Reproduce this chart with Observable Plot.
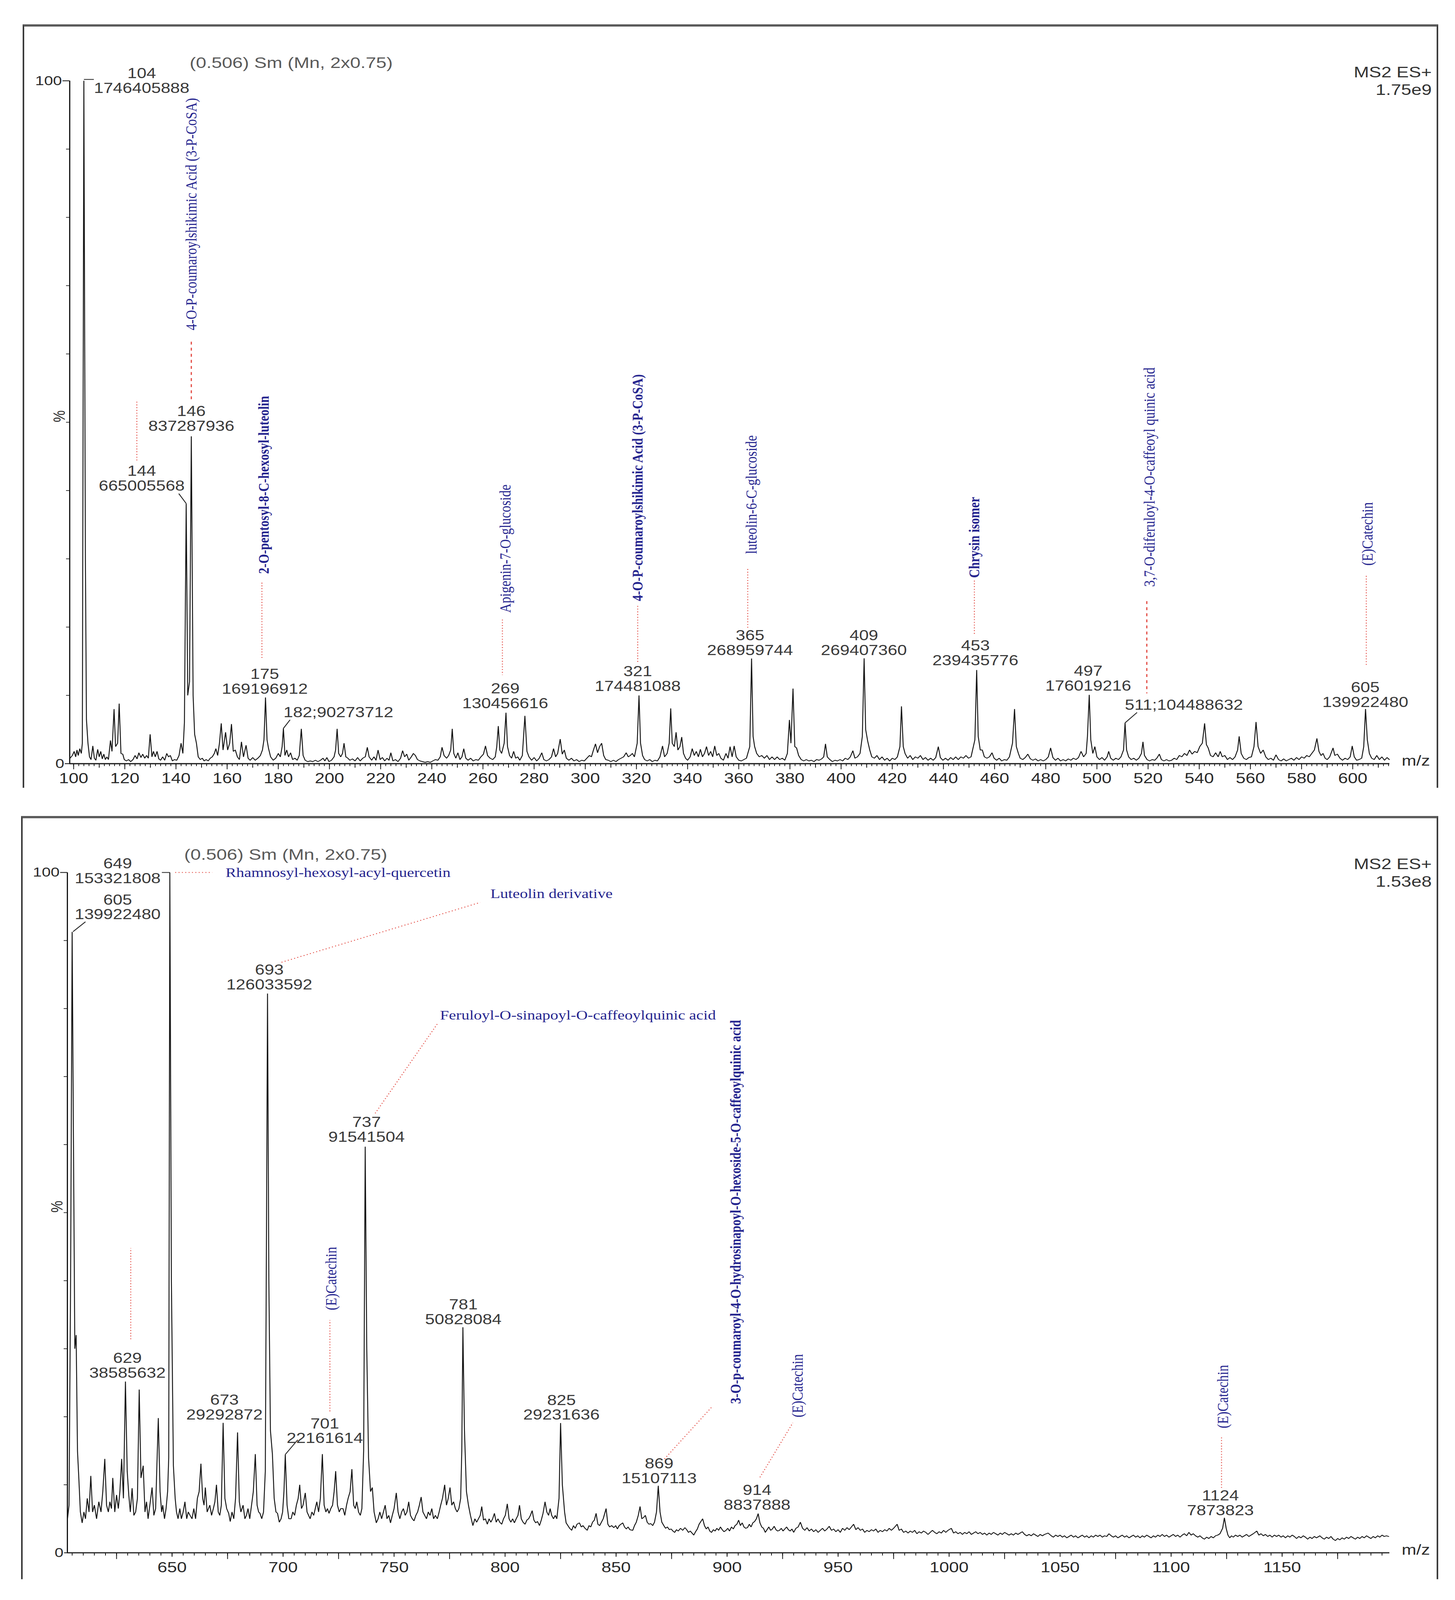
<!DOCTYPE html>
<html>
<head>
<meta charset="utf-8">
<script src="https://cdn.jsdelivr.net/npm/d3@7"></script>
<script src="https://cdn.jsdelivr.net/npm/@observablehq/plot@0.6"></script>
<style>
  html, body { margin: 0; padding: 0; background: #fff; overflow: hidden; }
  #page { position: absolute; left: 0; top: 0; width: 3725px; height: 5000px; transform-origin: 0 0; background: #fff; }
  .panel { position: absolute; left: 0; width: 3725px; height: 2500px; }
  .box { position: absolute; box-sizing: border-box;
         border-top: 7px solid #5a5a5a; border-left: 4px solid #3a3a3a; border-right: 4px solid #3a3a3a; }
</style>
</head>
<body>
<div id="page">
  <div class="box" style="left:58px; top:76px; width:3624px; height:2386px;"></div>
  <div class="box" style="left:54px; top:2550px; width:3628px; height:2385px;"></div>
  <div id="top" class="panel" style="top:0px;"></div>
  <div id="bottom" class="panel" style="top:2500px;"></div>
</div>
<script>
// ---------------- DATA ----------------
// Upper spectrum: [m/z, relative intensity %] (100% = 1.75e9)
const topTrace = [
[98.6,0.8],[99.5,1.2],[100.2,1.8],[100.8,1.0],[101.3,2.0],[101.8,1.2],[102.4,2.2],[103.0,1.5],[103.4,3],[104,100],[104.6,30],[105,6.5],[105.6,3.0],[106.2,1.0],[106.8,0.6],[107.5,2.6],[108.1,0.8],[108.7,0.5],[109.4,2.1],[110.0,1.0],[110.6,1.8],[111.2,0.7],[111.8,1.4],[112.4,0.6],[113,1.0],[113.6,0.6],[114.4,3.4],[115,1.8],[115.8,8.0],[116.4,2.5],[117.2,3.0],[117.8,8.8],[118.5,1.5],[119.2,1.4],[119.8,0.6],[120.6,0.4],[121.5,0.6],[122.3,0.3],[123.2,0.6],[124.0,1.2],[124.8,0.7],[125.5,1.6],[126.3,0.9],[127,1.4],[127.8,0.8],[128.5,1.2],[129.2,0.8],[129.9,4.3],[130.6,1.0],[131.2,1.8],[131.9,1.0],[132.6,1.8],[133.3,0.7],[134,0.5],[134.8,1.0],[135.6,0.5],[136.4,1.5],[137.1,1.0],[137.8,1.2],[138.6,0.4],[139.4,0.6],[140.3,0.5],[141.2,1.2],[142,3.0],[142.7,1.5],[143.3,6],[144,38.08],[144.6,10],[145.3,12],[146,47.94],[146.7,10],[147.3,4.3],[148,3],[148.7,1.0],[149.5,0.6],[150.3,0.8],[151,0.4],[151.8,0.6],[152.6,0.4],[153.4,0.8],[154.2,1.0],[155,1.5],[155.6,2.2],[156.3,1.2],[157,3.0],[157.7,5.9],[158.4,2.0],[159.4,4.6],[160.2,2.0],[161,3.0],[161.7,5.8],[162.4,1.8],[163.2,2.0],[164,1.0],[164.8,0.6],[165.6,3.2],[166.4,1.0],[167.4,2.7],[168.2,0.8],[169,0.5],[170,0.9],[171,0.5],[172,0.8],[173,1.2],[173.8,2.0],[174.4,3.5],[175,9.69],[175.6,3.5],[176.2,2.2],[177,1.0],[178,0.5],[179,0.8],[180,1.5],[180.8,1.0],[181.5,2.5],[182,5.17],[182.6,1.2],[183.3,2.0],[184,1.0],[184.8,1.6],[185.6,0.6],[186.5,0.8],[187.4,0.5],[188.2,1.2],[189,5.1],[189.7,1.2],[190.5,0.5],[191.5,0.3],[192.5,0.4],[193.5,0.3],[194.5,0.5],[195.5,0.3],[196.5,0.5],[197.5,0.8],[198.2,0.4],[199,0.9],[199.8,0.3],[200.8,0.5],[201.8,1.0],[202.4,2.0],[203,5.1],[203.6,1.5],[204.4,1.0],[205.1,1.5],[205.7,3.0],[206.4,1.0],[207.2,0.8],[208,0.5],[209,0.7],[210,0.4],[211,0.9],[212,0.4],[213,0.8],[214,1.0],[214.8,2.4],[215.5,1.0],[216.5,0.5],[217.4,1.0],[218.2,0.5],[219,2.0],[219.8,0.6],[220.7,0.9],[221.6,0.4],[222.5,0.8],[223.3,0.5],[224,1.6],[224.8,0.4],[225.8,0.6],[226.8,0.3],[227.8,0.8],[228.6,1.9],[229.4,1.0],[230.2,1.4],[231,0.5],[232,1.0],[232.8,1.5],[233.6,1.2],[234.4,0.6],[235.4,0.4],[236.4,0.3],[237.4,0.2],[238.4,0.3],[239.4,0.2],[240.4,0.4],[241.4,0.6],[242.4,0.5],[243.3,1.0],[244,2.4],[244.8,1.2],[245.8,0.8],[246.6,1.2],[247.4,2.0],[248,5.1],[248.6,1.5],[249.4,0.8],[250.2,1.6],[251,0.6],[251.8,1.0],[252.5,2.2],[253.3,0.8],[254.2,0.5],[255.2,0.8],[256.2,0.4],[257.2,0.6],[258.2,0.5],[259.2,1.0],[260.2,1.4],[261,2.6],[261.8,1.2],[262.8,0.8],[263.8,0.6],[264.8,1.0],[265.4,2.5],[266,5.5],[266.6,2.0],[267.3,1.5],[268.3,3],[269,7.47],[269.6,2.5],[270.4,1.2],[271.2,0.8],[272,1.8],[272.8,0.8],[273.6,1.0],[274.4,0.5],[275.4,1.2],[276.4,7.0],[277.2,1.8],[278,1.0],[279,0.5],[280,0.9],[281,0.4],[282,0.8],[283,1.6],[283.8,0.6],[284.8,0.4],[285.8,0.6],[286.8,1.0],[287.6,2.2],[288.4,1.0],[289.2,1.5],[290.2,3.6],[291,1.4],[291.8,2.0],[292.6,0.8],[293.6,0.5],[294.6,0.8],[295.6,0.4],[296.6,0.6],[297.6,0.3],[298.6,0.5],[299.6,0.4],[300.6,0.8],[301.6,1.2],[302.4,1.0],[303.2,2.0],[304,2.9],[304.8,1.6],[305.6,2.5],[306.4,3.0],[307.2,1.2],[308,0.6],[309,0.5],[310,0.3],[311,0.5],[312,0.3],[313,0.6],[314,0.8],[315,1.0],[316,1.6],[316.8,1.0],[317.6,1.2],[318.4,1.5],[319.2,1.0],[320.3,3],[321,9.99],[321.6,3.0],[322.4,1.2],[323.2,0.6],[324.2,0.4],[325.2,0.6],[326.2,0.3],[327.2,0.5],[328.2,0.4],[329.2,1.0],[330.2,2.6],[331,1.0],[332,1.5],[332.8,3.0],[333.4,8.1],[334,3.0],[334.8,2.5],[335.5,4.6],[336.2,2.0],[337,2.5],[337.7,3.9],[338.4,1.5],[339.2,0.8],[340,0.5],[341,1.0],[341.8,2.2],[342.6,1.2],[343.4,1.8],[344.2,1.0],[345,2.1],[345.8,1.0],[346.6,1.5],[347.4,2.5],[348.2,1.2],[349,1.8],[349.8,1.0],[350.6,2.6],[351.4,1.2],[352.2,1.5],[353,0.8],[354,0.5],[355,1.5],[355.8,0.8],[356.6,2.5],[357.4,1.0],[358.2,2.6],[359,1.0],[360,0.5],[361,0.4],[362,0.6],[363,0.8],[364.3,2.5],[365,15.4],[365.6,4.0],[366.2,2.5],[367,1.5],[368,1.0],[369,1.2],[370,0.8],[371,1.2],[372,0.6],[373,1.0],[374,0.6],[375,1.0],[376,0.6],[377,0.8],[378,0.5],[379,1.5],[379.8,6.4],[380.4,3.0],[381.2,11.0],[381.9,2.5],[382.6,2.3],[383.4,1.2],[384.4,0.6],[385.4,0.4],[386.4,0.6],[387.4,0.4],[388.4,0.5],[389.4,0.3],[390.4,0.6],[391.4,0.5],[392.4,0.7],[393.2,1.0],[393.9,2.9],[394.6,1.0],[395.6,0.6],[396.6,0.3],[397.6,0.5],[398.6,0.4],[399.6,0.6],[400.6,0.4],[401.6,0.8],[402.6,0.6],[403.6,1.0],[404.6,1.9],[405.4,0.8],[406.4,1.0],[407.4,1.5],[408.3,4],[409,15.43],[409.6,5.0],[410.4,3.3],[411.2,2.0],[412,1.0],[413,0.8],[414,1.2],[415,0.6],[416,1.0],[417,0.5],[418,0.8],[419,0.4],[420,0.8],[421,0.6],[422,1.0],[423,2.5],[423.6,8.4],[424.3,2.5],[425,1.5],[426,0.8],[427,1.2],[428,0.6],[429,1.0],[430,0.8],[431,1.2],[432,0.6],[433,0.9],[434,0.5],[435,0.8],[436,0.5],[437,0.9],[438,2.5],[438.8,0.9],[439.8,0.5],[440.8,0.8],[441.8,0.5],[442.8,0.9],[443.8,0.6],[444.8,1.0],[445.8,0.6],[446.8,1.0],[447.8,0.8],[448.8,1.2],[449.8,0.8],[450.8,1.0],[452.3,3.5],[453,13.71],[453.6,4.0],[454.4,2.0],[455.2,2.0],[456,1.0],[457,0.8],[458,1.0],[459,1.6],[459.8,0.8],[460.8,0.5],[461.8,0.8],[462.8,0.4],[463.8,0.6],[464.8,0.5],[465.8,1.0],[467,3.0],[467.8,8.0],[468.5,2.5],[469.3,1.5],[470,0.8],[471,0.6],[472,0.9],[473,1.4],[474,0.7],[475,0.5],[476,0.7],[477,0.4],[478,0.6],[479,0.4],[480,0.6],[481,1.0],[481.9,2.3],[482.8,0.9],[483.8,0.5],[484.8,0.8],[485.8,0.4],[486.8,0.6],[487.8,0.4],[488.8,0.7],[489.8,0.5],[490.8,0.8],[491.8,0.6],[492.8,0.9],[493.8,1.8],[494.8,1.0],[495.8,1.5],[496.3,4],[497,10.08],[497.6,3.5],[498.4,1.5],[499.2,2.5],[500,1.0],[501,0.6],[502,0.9],[503,0.5],[504,1.0],[504.6,1.8],[505.4,0.8],[506.4,0.5],[507.4,0.8],[508.4,0.6],[509.4,1.0],[510.4,2.0],[511,5.98],[511.6,2.0],[512.4,1.0],[513.4,0.6],[514.4,0.8],[515.4,0.5],[516.4,0.8],[517.4,1.5],[518,3.2],[518.6,1.2],[519.6,0.6],[520.6,0.4],[521.6,0.6],[522.6,0.5],[523.6,0.9],[524.4,1.4],[525.2,0.6],[526.2,0.4],[527.2,0.6],[528.2,0.4],[529.2,0.5],[530.2,0.8],[531.2,0.6],[532.2,1.2],[533.2,1.0],[534.2,1.5],[535.2,1.2],[536.2,2.0],[537.2,1.4],[538.2,1.8],[539.2,1.6],[540.2,2.5],[541.2,3.0],[542.1,5.9],[542.8,2.8],[543.5,2.3],[544.4,1.2],[545.4,1.0],[546.4,1.6],[547.4,1.0],[548.2,1.8],[549,1.0],[550,1.2],[551,0.6],[552,0.9],[553,0.6],[554,1.0],[555,2.0],[555.6,4.0],[556.4,1.5],[557.4,0.8],[558.4,0.6],[559.4,0.9],[560.4,1.0],[561.4,2.5],[562.2,6.1],[563,2.5],[564,1.5],[565,2.0],[566,1.0],[567,0.6],[568,0.8],[569,0.5],[570,1.3],[571,0.6],[572,0.4],[573,0.7],[574,0.4],[575,0.6],[576,0.8],[577,0.5],[578,0.9],[579,0.6],[580,1.0],[581,0.8],[582,1.2],[583,1.0],[584,1.5],[585,2.0],[586,3.7],[586.8,1.8],[587.6,1.2],[588.4,1.5],[589.2,0.8],[590,0.6],[591,1.0],[592.3,2.3],[593,1.2],[594,1.4],[595,0.8],[596,0.5],[597,0.8],[598,0.6],[599,1.0],[599.8,2.6],[600.6,1.0],[601.5,0.5],[602.5,0.6],[603.5,0.8],[604.3,2.5],[605,8.01],[605.7,3.5],[606.5,1.5],[607.4,0.8],[608.4,0.6],[609.4,1.2],[610.4,0.6],[611.4,1.0],[612.4,0.5],[613.4,0.9],[614.3,0.6]
];
const topPeakMz = [104, 146, 144, 175, 269, 321, 365, 409, 453, 497, 605];
const topPeakCounts = [1746405888, 837287936, 665005568, 169196912, 130456616, 174481088, 268959744, 269407360, 239435776, 176019216, 139922480];
const topInlineMz = [182, 511];
const topInlineCounts = [90273712, 104488632];
const topCompounds = ["4-O-P-coumaroylshikimic Acid (3-P-CoSA)", "2-O-pentosyl-8-C-hexosyl-luteolin", "Apigenin-7-O-glucoside", "4-O-P-coumaroylshikimic Acid (3-P-CoSA)", "luteolin-6-C-glucoside", "Chrysin isomer", "3,7-O-diferuloyl-4-O-caffeoyl quinic acid", "(E)Catechin"];
const topTitle = "(0.506) Sm (Mn, 2x0.75)";
const topCorner = "MS2 ES+\n1.75e9";
const topXTicks = [100,120,140,160,180,200,220,240,260,280,300,320,340,360,380,400,420,440,460,480,500,520,540,560,580,600];

// Lower spectrum: [m/z, relative intensity %] (100% = 1.53e8)
const bottomTrace = [
[602.9,5],[603.6,7],[604.3,40],[605,91.26],[605.6,60],[606.2,30],[606.8,32],[607.4,15],[608,11],[608.7,6],[609.5,4.4],[610.3,6],[611,5],[611.8,8],[612.6,6],[613.4,11.3],[614.2,6],[615,7],[616,5],[617,7.5],[618,6],[618.8,9],[619.7,13.8],[620.5,7],[621.3,6],[622,7.5],[622.7,6.5],[623.3,11],[624.2,6],[625,8.5],[625.8,6.5],[626.5,9],[627.3,13.8],[628.1,8],[629,25.17],[629.8,12],[630.5,8.5],[631.2,6],[632,9.5],[632.8,5.5],[633.6,6],[634.4,8],[635.2,24],[636,11],[637,12.8],[637.8,6],[638.5,7.5],[639.2,5],[640,7],[641,9.6],[641.8,5.5],[642.6,6.5],[643.8,19.8],[644.6,9],[645.3,6],[645.8,7],[646.6,5],[647.3,6.5],[648,9],[648.5,14],[649,100],[649.7,40],[650.6,12.8],[651.4,8],[652,6],[652.7,5],[653.5,6.5],[654.2,5],[655,6],[655.8,7.5],[656.6,5],[657.3,6],[658.1,5.5],[659,5],[659.8,6.5],[660.6,5],[661.4,8],[662.2,9],[663,13.1],[663.8,8],[664.4,7],[665,9.6],[665.8,6],[666.4,6.5],[667,7],[667.8,5.5],[668.6,6.5],[669.3,7.5],[670,10],[670.8,6],[671.5,5.5],[672.2,7],[673,19.1],[673.8,8],[674.6,6.5],[675.5,5.8],[676.2,4.6],[677,6],[677.8,5],[678.6,8],[679.5,17.7],[680.3,7.5],[681,6],[682,7],[682.8,5],[683.5,5.5],[684.2,6.5],[685,5],[685.8,7],[686.6,9],[687.5,14.5],[688.3,7],[689,6],[689.6,5.8],[690.4,5],[691.2,6],[692,12],[692.5,45],[693,82.2],[693.6,40],[694.3,18],[695.2,14.5],[696,8],[696.8,6],[697.5,5.8],[698.3,4.5],[699.1,5],[699.8,6],[700.4,9],[701,14.45],[701.8,7],[702.6,5],[703.6,5],[704.4,6],[705.2,5.5],[706,7],[706.8,8],[707.5,10],[708.3,6.5],[709,7],[710,8.8],[710.8,6],[711.5,5.5],[712.2,5],[713,6],[713.8,5.5],[714.5,6.5],[715.2,7.5],[716,6],[716.8,8],[717.7,14.5],[718.5,7],[719.3,6],[720,6.5],[720.7,5.8],[721.5,6.5],[722.3,7],[723,9],[723.7,12],[724.5,7],[725.3,6],[726,6.5],[727,6.5],[727.8,5.5],[728.6,7],[729.3,8],[730.2,9],[731,12.3],[731.8,7],[732.5,6.5],[733.2,7.5],[734,6],[734.8,5.5],[735.5,6.5],[736.3,15],[737,59.7],[737.7,30],[738.5,14],[739.4,9],[740.2,9.6],[741,6],[742,4.4],[742.8,5],[743.6,6],[744.4,5],[745.2,6],[746,7],[746.8,5],[747.6,5.5],[748.4,4.4],[749.2,5.5],[750,6.5],[751,8.8],[751.8,6],[752.6,5],[753.4,6],[754.2,6.5],[755,5.5],[755.8,6],[756.6,7.5],[757.4,5.5],[758.2,5],[759,4.7],[759.8,5.5],[760.6,6],[761.4,7],[762.2,8.2],[763,6],[763.8,5.5],[764.6,5],[765.4,6],[766.2,5.5],[767,6.5],[767.8,5],[768.6,5.5],[769.5,5],[770.3,6],[771,7],[771.8,8],[772.8,10],[773.6,7],[774.4,8],[775.2,9.6],[776,7],[776.8,7.5],[777.6,6.5],[778.4,6],[779.2,6.5],[780,8],[780.5,15],[781,33.15],[781.7,18],[782.6,9],[783.5,7],[784.4,5.5],[785.5,4],[786.4,5],[787.2,4.5],[788,5],[788.8,5.5],[789.5,6.8],[790.3,4.8],[791.1,5],[792,4.2],[792.8,5],[793.6,4.5],[794.4,5],[795.2,5.8],[796,4.5],[796.8,5],[797.6,4.5],[798.5,4.2],[799.3,5],[800.1,5.5],[801,7.2],[801.8,5],[802.6,4.5],[803.4,5],[804.2,4.4],[805,5],[805.8,5.5],[806.5,7],[807.3,5],[808.1,4.5],[809,4.2],[809.8,4.8],[810.6,5],[811.4,5.5],[812.2,6.2],[813,4.8],[813.8,4.4],[814.6,4.6],[815.5,4],[816.3,4.8],[817.1,5.8],[818,7.5],[818.8,6],[819.6,5.5],[820.3,6.5],[821,5.5],[821.8,5],[822.6,5.5],[823.3,5],[824.3,8],[825,19.07],[825.8,10],[826.8,6],[827.5,4.4],[828.3,4],[829.1,3.6],[830,3.3],[830.8,4],[831.6,3.6],[832.4,4.2],[833.5,4.4],[834.3,3.8],[835.1,4],[836,3.6],[837,3.3],[837.8,4],[838.6,3.8],[839.4,4.5],[840.2,4.8],[841,5.8],[841.8,4.2],[842.6,4],[843.4,4.5],[844.2,5],[845.5,6.5],[846.3,4.2],[847.1,3.8],[848,4],[849,3.7],[849.8,4],[850.6,3.5],[851.4,4],[852.2,4.2],[853,4.4],[853.8,3.8],[854.6,3.5],[855.4,3.8],[856.2,3.4],[857.5,3.3],[858.3,4],[859.1,4.5],[860,5.5],[860.8,6.8],[861.6,5],[862.4,5.2],[863.2,5.5],[864,4.5],[864.8,4.2],[865.6,4.3],[866.5,4],[867.3,4.5],[868.2,6],[869,9.85],[869.8,6],[870.6,4.5],[871.5,4],[872.3,3.6],[873.1,3.8],[874,3.4],[874.8,3.5],[875.6,3.2],[876.4,3],[877.2,3.4],[878,3.2],[879,3.6],[880,3.3],[881,3.7],[881.8,3.4],[882.6,3],[883.4,3.2],[884.2,2.9],[885,2.6],[885.8,3.1],[886.6,3.5],[887.4,4.2],[888.2,4.6],[889,5],[889.8,4],[890.6,3.5],[891.4,3.8],[892.2,3.2],[893,3],[893.8,3.4],[894.6,3.2],[895.4,3.6],[896.2,3.3],[897,3.8],[897.8,3.4],[898.6,3.1],[899.5,3.3],[900.3,3.6],[901.1,3.2],[902,3.8],[902.8,3.5],[903.6,4],[904.4,4.2],[905.2,4.8],[906,4],[906.8,4.4],[907.6,3.8],[908.4,3.6],[909.2,3.7],[910,4.2],[910.8,3.8],[911.6,4.4],[912.4,4.6],[913.2,5.0],[914,5.76],[914.8,4.4],[915.6,3.8],[916.4,3.6],[917.2,3],[918,3.4],[918.8,3.8],[919.6,3.3],[920.4,3.5],[921.2,3.9],[922,3.4],[922.8,3.2],[923.6,3.3],[924.4,3.6],[925.2,3.2],[926,3.5],[926.8,3.8],[927.6,3.4],[928.4,3.2],[929.2,3.5],[930,3],[931,3.6],[932,3.8],[933,4.5],[934,3.6],[935,3.3],[936,3.7],[937,3.2],[938,3.5],[939,3.1],[940,3.4],[941,3.0],[942,3.3],[943,3.6],[944,3.2],[945,3.5],[946,3.9],[947,3.3],[948,3.5],[949,3.1],[950,3.4],[951,3.0],[952,3.6],[953,3.3],[954,3.7],[955,3.4],[956,3.8],[957,4.2],[958,3.4],[959,3.7],[960,3.3],[961,3.5],[962,3.0],[963,3.3],[964,3.1],[965,3.4],[966,3.2],[967,3.5],[968,3.0],[969,3.3],[970,3.1],[971,3.4],[972,3.2],[973,3.6],[974,3.3],[975,3.6],[976.6,4.2],[977.5,3.3],[978.5,3.5],[979.5,3.0],[980.5,3.2],[981.5,2.9],[982.5,3.2],[983.5,3.0],[984.5,3.3],[985.5,2.8],[986.5,3.1],[987.5,2.9],[988.5,3.2],[989.5,3.0],[990.5,2.7],[991.5,3.0],[992.5,3.3],[993.5,3.0],[994.5,2.8],[995.5,3.1],[996.5,2.9],[997.5,3.3],[998.5,3.0],[999.5,3.3],[1001,3.6],[1002,2.9],[1003,3.1],[1004,2.8],[1005,3.0],[1006,2.7],[1007,3.0],[1008,2.8],[1009,3.1],[1010,2.7],[1011,2.9],[1012,3.1],[1013,2.8],[1014,3.0],[1015,2.7],[1016,2.9],[1017,2.6],[1018,2.9],[1019,2.7],[1020,3.0],[1021,2.8],[1022,2.6],[1023,2.9],[1024,2.7],[1025,3.0],[1026,2.8],[1027,2.6],[1028,2.8],[1029,2.6],[1030,2.9],[1031,2.7],[1032,2.9],[1033,3.1],[1034,2.7],[1035,2.5],[1036,2.7],[1037,2.5],[1038,2.8],[1039,2.6],[1040,2.4],[1041,2.7],[1042,2.5],[1043,2.7],[1044.6,2.9],[1046,2.5],[1047,2.3],[1048,2.6],[1049,2.4],[1050,2.6],[1051,2.3],[1052,2.5],[1053,2.2],[1054,2.4],[1055,2.6],[1056,2.3],[1057,2.5],[1058,2.2],[1059,2.4],[1060,2.6],[1061,2.3],[1062,2.5],[1063,2.2],[1064,2.5],[1065,2.3],[1066,2.6],[1067,2.4],[1068,2.6],[1069,2.3],[1070,2.5],[1071,2.4],[1072,2.8],[1073,2.5],[1074,2.3],[1075,2.5],[1076,2.2],[1077,2.4],[1078,2.6],[1079,2.3],[1080,2.5],[1081,2.2],[1082,2.4],[1083,2.6],[1084,2.3],[1085,2.5],[1086,2.2],[1087,2.5],[1088,2.3],[1089,2.6],[1090,2.4],[1091,2.2],[1092,2.5],[1093,2.3],[1094,2.6],[1095,2.4],[1096,2.7],[1097,2.4],[1098,2.6],[1099,2.3],[1100,2.5],[1101,2.7],[1102,2.4],[1103,2.6],[1104,2.3],[1105,2.6],[1106,2.8],[1107,2.5],[1108,3.0],[1109,2.6],[1110,2.8],[1111,2.5],[1112,2.3],[1113,2.5],[1114,2.2],[1115,2.0],[1116,2.3],[1117,2.1],[1118,2.4],[1119,2.2],[1120,2.5],[1121,2.6],[1122,2.8],[1123.2,3.6],[1124,5.14],[1124.8,3.6],[1125.6,2.6],[1126.4,2.2],[1127.2,2.5],[1128,2.3],[1129,2.6],[1130,2.4],[1131,2.6],[1132,2.3],[1133,2.5],[1134,2.7],[1135,2.4],[1136,2.6],[1137,2.8],[1138.6,3.2],[1139.5,2.6],[1140.5,2.8],[1141.5,2.5],[1142.5,2.7],[1143.5,2.4],[1144.5,2.6],[1145.5,2.3],[1146.5,2.6],[1147.5,2.4],[1148.5,2.6],[1149.5,2.3],[1150.5,2.5],[1151.5,2.2],[1152.5,2.5],[1153.5,2.3],[1154.5,2.6],[1155.5,2.4],[1156.5,2.1],[1157.5,2.4],[1158.5,2.2],[1159.5,2.5],[1160.5,2.3],[1161.5,2.0],[1162.5,2.3],[1163.5,2.1],[1164.5,2.4],[1165.5,2.2],[1167,2.5],[1168,2.2],[1169,2.0],[1170,2.3],[1171,2.1],[1172,2.4],[1173,2.0],[1174,1.8],[1175,2.1],[1176,1.9],[1177,2.2],[1178,2.0],[1179,2.3],[1180,2.1],[1181,2.4],[1182,2.2],[1183,2.0],[1184,2.3],[1185,2.1],[1186,2.4],[1187,2.2],[1188,2.5],[1189,2.3],[1190,2.1],[1191,2.4],[1192,2.2],[1193,2.5],[1194,2.3],[1195,2.6],[1196,2.4],[1197,2.5],[1198,2.4]
];
const bottomPeakMz = [649, 605, 693, 737, 629, 673, 701, 781, 825, 869, 914, 1124];
const bottomPeakCounts = [153321808, 139922480, 126033592, 91541504, 38585632, 29292872, 22161614, 50828084, 29231636, 15107113, 8837888, 7873823];
const bottomCompoundsH = ["Rhamnosyl-hexosyl-acyl-quercetin", "Luteolin derivative", "Feruloyl-O-sinapoyl-O-caffeoylquinic acid"];
const bottomCompoundsV = ["3-O-p-coumaroyl-4-O-hydrosinapoyl-O-hexoside-5-O-caffeoylquinic acid", "(E)Catechin", "(E)Catechin", "(E)Catechin"];
const bottomTitle = "(0.506) Sm (Mn, 2x0.75)";
const bottomCorner = "MS2 ES+\n1.53e8";
const bottomXTicks = [650,700,750,800,850,900,950,1000,1050,1100,1150];

// ---------------- LAYOUT (annotation placement, in data units) ----------------
const topLabelAt = [[126.6,100.0],[146.0,50.5],[126.6,41.75],[174.7,12.04],[268.7,9.89],[320.5,12.4],[364.4,17.7],[408.9,17.7],[452.5,16.2],[496.6,12.5],[604.9,10.1]];
const topInlineAt = [[203.5,7.45],[534.0,8.58]];
const topLeaderFrom = [[107.9,100.2],[141.1,39.55],[184.6,6.42],[515.7,7.5]];
const topLeaderPeak = [[104,100.2],[144,38.1],[182,5.17],[511,5.98]];
const topNameAt = [[146.0,63.45,0],[174.4,27.8,1],[268.7,22.1,0],[320.5,23.8,1],[364.9,30.7,0],[452.1,27.2,1],[520.5,25.9,0],[605.8,29.0,0]];
const topPointers = [[124.7,53.0,124.7,44.3,0],[146.0,61.8,146.0,53.2,1],[173.6,26.5,173.6,15.4,0],[267.6,21.1,267.6,13.0,0],[320.5,23.1,320.5,14.7,0],[363.5,28.5,363.5,19.9,0],[452.1,26.8,452.1,19.0,0],[519.5,23.8,519.5,10.3,1],[605.3,27.5,605.3,14.2,0]];

const bottomLabelAt = [[625.5,100.2],[625.5,94.9],[693.8,84.6],[737.6,62.2],[629.9,27.5],[673.6,21.4],[718.8,17.9],[781.2,35.4],[825.4,21.35],[869.4,12.0],[913.5,8.1],[1122.2,7.3]];
const bottomLeaderFrom = [[645.4,100.0],[611.0,92.75],[706.6,16.6]];
const bottomLeaderPeak = [[649,100.0],[605.4,91.3],[701,14.45]];
const bottomNameHAt = [[674.1,99.95],[793.4,96.85],[770.7,79.0]];
const bottomNameVAt = [[903.9,21.9,1],[721.6,35.65,0],[931.8,19.9,0],[1123.3,18.3,0]];
const bottomPointers = [[651.4,100,668.1,100],[699.3,86.8,788.8,95.6],[741.5,64.6,769.6,77.8],[871.8,13.8,893.3,21.5],[631.4,31.4,631.4,44.8],[721.1,20.8,721.1,34.2],[914.8,11.1,929.6,19.1],[1122.7,9.55,1122.7,17.0]];

// ---------------- RENDER ----------------
const SANS = "'Liberation Sans', Arial, Helvetica, sans-serif";
const SERIF = "'Liberation Serif', 'Times New Roman', Times, serif";
const INK = "#141414";
const LABEL = "#3a3a3a";
const AXISTXT = "#2a2a2a";
const BLUE = "#25258f";
const RED = "#e2463e";

function panel(p) {
  const [x0, x1] = p.xDomain;
  const labels = p.labelMz.map((m, i) => ({x: p.labelAt[i][0], y: p.labelAt[i][1], t: `${m}\n${p.labelCounts[i]}`}));
  const inline = (p.inlineMz || []).map((m, i) => ({x: p.inlineAt[i][0], y: p.inlineAt[i][1], t: `${m};${p.inlineCounts[i]}`}));
  const leaders = p.leaderFrom.map((a, i) => ({x1: a[0], y1: a[1], x2: p.leaderPeak[i][0], y2: p.leaderPeak[i][1]}));
  const dots = p.pointers.filter(d => !d[4]).map(d => ({x1: d[0], y1: d[1], x2: d[2], y2: d[3]}));
  const dashes = p.pointers.filter(d => d[4]).map(d => ({x1: d[0], y1: d[1], x2: d[2], y2: d[3]}));
  const vNames = p.vNames.map((t, i) => ({t, x: p.vNameAt[i][0], y: p.vNameAt[i][1], b: p.vNameAt[i][2]}));
  const hNames = (p.hNames || []).map((t, i) => ({t, x: p.hNameAt[i][0], y: p.hNameAt[i][1]}));
  const xMinor = d3.range(p.minorStart, x1, p.minorStep);
  return Plot.plot({
    width: 3725, height: 2500,
    marginLeft: p.ml, marginRight: p.mr, marginTop: p.mt, marginBottom: p.mb,
    x: {domain: [x0, x1]},
    y: {domain: [0, 100]},
    style: {background: "transparent", fontFamily: SANS, overflow: "visible"},
    marks: [
      Plot.axisX(xMinor, {tickSize: p.minorSize, tickFormat: () => "", label: null, stroke: INK, strokeWidth: 2}),
      Plot.axisX(p.xLong, {tickSize: p.longSize, tickFormat: () => "", label: null, stroke: INK, strokeWidth: 2}),
      Plot.axisX(p.xTicks, {tickSize: p.labeledSize, tickPadding: p.tickPadding, fontSize: 45, fontFamily: SANS,
        fill: AXISTXT, stroke: INK, strokeWidth: 2, label: null, tickFormat: d => String(d)}),
      Plot.axisY(d3.range(10, 100, 10), {tickSize: 9, tickFormat: () => "", label: null, stroke: INK, strokeWidth: 2}),
      Plot.axisY([100], {tickSize: 18, tickPadding: 2, fontSize: 41, fontFamily: SANS, fill: AXISTXT, stroke: INK, strokeWidth: 2.5, label: null}),
      Plot.axisY([0], {tickSize: p.zeroTick, tickPadding: 2, fontSize: 41, fontFamily: SANS, fill: AXISTXT, stroke: INK, strokeWidth: 2.5, label: null}),
      Plot.ruleY([0], {x1: x0, x2: x1, stroke: INK, strokeWidth: 3.5}),
      Plot.ruleX([x0], {y1: 0, y2: 100, stroke: INK, strokeWidth: 3}),
      Plot.text(["%"], {frameAnchor: "left", y: () => 50, text: d => d, dx: -26, rotate: -90, fontSize: 42, fontFamily: SANS, fill: AXISTXT}),
      Plot.text(["m/z"], {frameAnchor: "bottom-right", text: d => d, dx: 31, dy: 6, textAnchor: "start", fontSize: 45, fontFamily: SANS, fill: AXISTXT}),
      Plot.text([p.title], {frameAnchor: "top-left", text: d => d, dx: p.titleDx, dy: p.titleDy, textAnchor: "start", fontSize: 48, fontFamily: SANS, fill: "#5a5a5a"}),
      Plot.text([p.corner], {frameAnchor: "top-right", text: d => d, dx: 108, dy: p.cornerDy, textAnchor: "end", lineHeight: 1.17, fontSize: 47, fontFamily: SANS, fill: "#333"}),
      Plot.line(p.trace, {x: d => d[0], y: d => d[1], stroke: INK, strokeWidth: 2.4, strokeLinejoin: "miter"}),
      Plot.link(dots, {x1: "x1", y1: "y1", x2: "x2", y2: "y2", stroke: RED, strokeWidth: 2.6, strokeDasharray: "2.6,6"}),
      Plot.link(dashes, {x1: "x1", y1: "y1", x2: "x2", y2: "y2", stroke: RED, strokeWidth: 3, strokeDasharray: "9,10"}),
      Plot.link(leaders, {x1: "x1", y1: "y1", x2: "x2", y2: "y2", stroke: "#222", strokeWidth: 2.4}),
      Plot.text(labels, {x: "x", y: "y", text: "t", fontSize: 44, lineHeight: 1.05, fontFamily: SANS, fill: LABEL}),
      Plot.text(inline, {x: "x", y: "y", text: "t", fontSize: 44, fontFamily: SANS, fill: LABEL}),
      Plot.text(vNames.filter(d => !d.b), {x: "x", y: "y", text: "t", rotate: -90, textAnchor: "start", fontSize: 41, fontFamily: SERIF, fill: BLUE}),
      Plot.text(vNames.filter(d => d.b), {x: "x", y: "y", text: "t", rotate: -90, textAnchor: "start", fontSize: 38.5, fontWeight: "bold", fontFamily: SERIF, fill: BLUE}),
      Plot.text(hNames, {x: "x", y: "y", text: "t", textAnchor: "start", fontSize: 41, fontFamily: SERIF, fill: BLUE})
    ]
  });
}

document.getElementById("top").appendChild(panel({
  trace: topTrace, xDomain: [98.47, 614.4],
  ml: 178, mr: 168, mt: 252, mb: 114,
  minorStart: 100, minorStep: 2, minorSize: 8,
  xLong: d3.range(110, 614, 20), longSize: 13,
  xTicks: topXTicks, labeledSize: 18, tickPadding: 11, zeroTick: 12,
  title: topTitle, titleDx: 307, titleDy: -74,
  corner: topCorner, cornerDy: -50,
  labelMz: topPeakMz, labelCounts: topPeakCounts, labelAt: topLabelAt,
  inlineMz: topInlineMz, inlineCounts: topInlineCounts, inlineAt: topInlineAt,
  leaderFrom: topLeaderFrom, leaderPeak: topLeaderPeak,
  pointers: topPointers,
  vNames: topCompounds, vNameAt: topNameAt
}));

document.getElementById("bottom").appendChild(panel({
  trace: bottomTrace, xDomain: [602.85, 1198.4],
  ml: 172, mr: 168, mt: 226, mb: 148,
  minorStart: 605, minorStep: 5, minorSize: 9,
  xLong: d3.range(625, 1198, 50), longSize: 20,
  xTicks: bottomXTicks, labeledSize: 13, tickPadding: 16, zeroTick: 8,
  title: bottomTitle, titleDx: 299, titleDy: -74,
  corner: bottomCorner, cornerDy: -49,
  labelMz: bottomPeakMz, labelCounts: bottomPeakCounts, labelAt: bottomLabelAt,
  leaderFrom: bottomLeaderFrom, leaderPeak: bottomLeaderPeak,
  pointers: bottomPointers.map(d => [...d, 0]),
  vNames: bottomCompoundsV, vNameAt: bottomNameVAt,
  hNames: bottomCompoundsH, hNameAt: bottomNameHAt
}));

// The browser window may be shorter than the 5000 px design (e.g. 4096): fit the page to it vertically.
const fitScale = Math.min(1, window.innerHeight / 5000);
document.getElementById("page").style.transform = `scaleY(${fitScale})`;
document.body.style.height = (5000 * fitScale) + "px";
</script>
</body>
</html>
